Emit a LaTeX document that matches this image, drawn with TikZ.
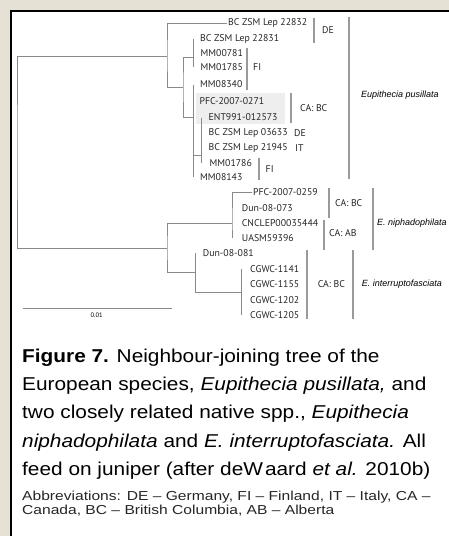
\documentclass[tikz,border=0pt]{standalone}
\usepackage{fontspec}
\setmainfont{Liberation Sans}
\newfontfamily\treefont{PT Sans}
\newfontfamily\capfont[FakeStretch=1.12]{Liberation Sans}
\newfontfamily\abbrfont[FakeStretch=1.2]{Liberation Sans}
\definecolor{paper}{HTML}{E6E1D5}
\definecolor{twig}{HTML}{8A8A8A}
\definecolor{barcol}{HTML}{9A9A9A}
\definecolor{hlgrey}{HTML}{EEEEEE}

\begin{document}
\begin{tikzpicture}[x=1pt,y=-1pt]
    \tikzstyle{branch}=[draw=twig, line width=0.9pt]
    \tikzstyle{bar}=[draw=barcol, line width=1.8pt]
    \tikzstyle{leaf}=[anchor=west, inner sep=1pt, text=black!85, font=\treefont\fontsize{9.8}{10}\selectfont]
    \tikzstyle{region}=[leaf, inner sep=0pt]
    \tikzstyle{species}=[anchor=west, inner sep=0pt, font=\fontsize{9}{10}\selectfont\itshape]
    \tikzstyle{capline}=[anchor=base west, inner sep=0pt, font=\capfont\fontsize{18.6}{20}\selectfont]
    \tikzstyle{abbrline}=[anchor=base west, inner sep=0pt, text=black!85, font=\abbrfont\fontsize{13}{14}\selectfont]

    \useasboundingbox (0,0) rectangle (449,536);
    \fill[paper] (0,0) rectangle (449,536);
    \fill[white] (10.7,10.7) rectangle (449,536);
    \draw[black, line width=1.7pt] (10.7,536) -- (10.7,10.7) -- (449,10.7);

    % highlighted pair
    \fill[hlgrey] (196,93) rectangle (285,124);

    % leaves
    \node[leaf] (bc22832) at (227,23) {BC ZSM Lep 22832};
    \node[leaf] (bc22831) at (199,38.5) {BC ZSM Lep 22831};
    \node[leaf] (mm00781) at (199.5,53) {MM00781};
    \node[leaf] (mm01785) at (199.5,67) {MM01785};
    \node[leaf] (mm08340) at (199,84.5) {MM08340};
    \node[leaf] (pfc0271) at (198.5,101.5) {PFC-2007-0271};
    \node[leaf] (ent991) at (207.5,117.5) {ENT991-012573};
    \node[leaf] (bc03633) at (207.5,133) {BC ZSM Lep 03633};
    \node[leaf] (bc21945) at (207.5,148) {BC ZSM Lep 21945};
    \node[leaf] (mm01786) at (208.5,163) {MM01786};
    \node[leaf] (mm08143) at (199,177) {MM08143};
    \node[leaf] (pfc0259) at (252,192) {PFC-2007-0259};
    \node[leaf] (dun073) at (240.7,208) {Dun-08-073};
    \node[leaf] (cnclep) at (240.7,223) {CNCLEP00035444};
    \node[leaf] (uasm) at (240.7,238) {UASM59396};
    \node[leaf] (dun081) at (201.7,253) {Dun-08-081};
    \node[leaf] (cgwc1141) at (249,269) {CGWC-1141};
    \node[leaf] (cgwc1155) at (249,284) {CGWC-1155};
    \node[leaf] (cgwc1202) at (249,300.5) {CGWC-1202};
    \node[leaf] (cgwc1205) at (249,315) {CGWC-1205};

    % inner nodes
    \coordinate (root) at (17,152);
    \coordinate (nA) at (167,56);
    \coordinate (nB) at (183,87);
    \coordinate (nC) at (193,57);
    \coordinate (nD) at (193,117);
    \coordinate (nE) at (201,155);
    \coordinate (nF) at (167,248);
    \coordinate (nG) at (232,223);
    \coordinate (nH) at (195,272);
    \coordinate (nI) at (241,292);

    \draw[branch] (nA) -| (root) |- (nF);
    \draw[branch] (bc22832.west) -| (nA) |- (nB);
    \draw[branch] (nC) -| (nB) |- (nD);
    \draw[branch] (nC |- bc22831) -- (nC |- mm01785);
    \draw[branch] (nD |- mm08340) -- (nD |- mm08143);
    \draw[branch] (nD |- nE) -- (nE);
    \draw[branch] (nE |- ent991) -- (nE |- mm01786);
    \draw[branch] (nG) -| (nF) |- (nH);
    \draw[branch] (pfc0259.west) -| (nG) -- (nG |- uasm);
    \draw[branch] (nH |- dun081) -- (nH |- nI) -- (nI);
    \draw[branch] (nI |- cgwc1141) -- (nI |- cgwc1205);

    % country brackets
    \draw[bar] (314,18) -- (314,43);
    \node[region] (de1) at (322,30.5) {DE};
    \draw[bar] (246.7,48) -- (246.7,89.5);
    \node[region] (fi1) at (253,67) {FI};
    \draw[bar] (290.7,93) -- (290.7,123);
    \node[region] (cabc1) at (300,108.5) {CA: BC};
    \node[region] (de2) at (294,133) {DE};
    \node[region] (it) at (295,148) {IT};
    \draw[bar] (259.3,158) -- (259.3,179.5);
    \node[region] (fi2) at (265.5,169.5) {FI};
    \draw[bar] (329.3,188) -- (329.3,217.5);
    \node[region] (cabc2) at (335,203.5) {CA: BC};
    \draw[bar] (324,219.5) -- (324,249.5);
    \node[region] (caab) at (329,233) {CA: AB};
    \draw[bar] (307,250) -- (307,318.5);
    \node[region] (cabc3) at (317.7,284) {CA: BC};

    % species brackets
    \draw[bar] (349.3,16.5) -- (349.3,178.5);
    \node[species] (pus) at (361,95) {Eupithecia pusillata};
    \draw[bar] (373.3,188) -- (373.3,249.5);
    \node[species] (nip) at (377,222.7) {E. niphadophilata};
    \draw[bar] (353.3,250) -- (353.3,318.5);
    \node[species] (intr) at (361.7,284) {E. interruptofasciata};

    % scale bar
    \coordinate (s0) at (22.7,308.3);
    \coordinate (s1) at (171.7,308.3);
    \draw[branch] (s0) -- (s1);
    \node[font=\treefont\fontsize{6.5}{7}\selectfont, inner sep=0pt] (scale) at (96.7,315.5) {0.01};

    % caption
    \node[capline] (cap1) at (22,362) {\textbf{Figure 7.} Neighbour-joining tree of the};
    \node[capline] (cap2) at (22,390) {European species, \textit{Eupithecia pusillata,} and};
    \node[capline] (cap3) at (22,418) {two closely related native spp., \textit{Eupithecia}};
    \node[capline] (cap4) at (22,447) {\textit{niphadophilata} and \textit{E. interruptofasciata.} All};
    \node[capline] (cap5) at (22,475) {feed on juniper (after deW\kern2pt aard \textit{et al.} 2010b)};
    \node[abbrline] (abbr1) at (22,500) {Abbreviations: DE – Germany, FI – Finland, IT – Italy, CA –};
    \node[abbrline] (abbr2) at (22,514) {Canada, BC – British Columbia, AB – Alberta};
\end{tikzpicture}
\end{document}
